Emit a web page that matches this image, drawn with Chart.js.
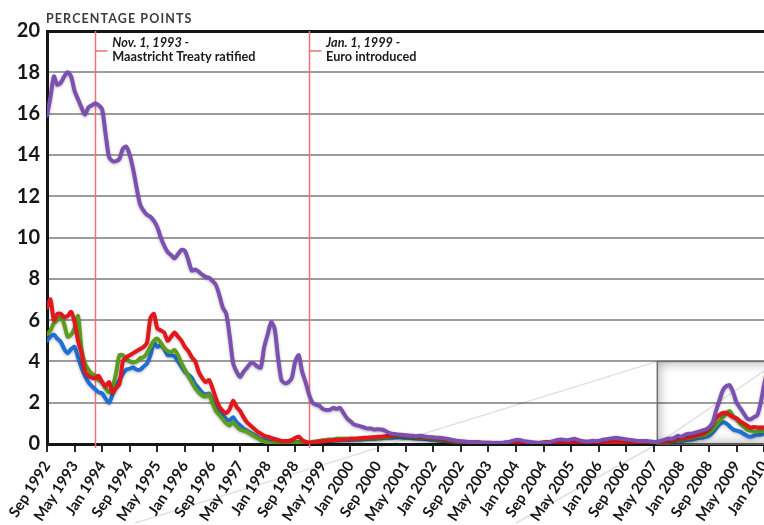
<!DOCTYPE html>
<html lang="en">
<head>
  <meta charset="UTF-8">
  <title>Spreads over Germany</title>
  <script src="https://cdn.jsdelivr.net/npm/chart.js"></script>
  <style>
    html, body { margin: 0; padding: 0; background: #fff; overflow: hidden; }
    #wrap { position: relative; width: 800px; height: 525px; }
  </style>
</head>
<body>
  <div id="wrap"><canvas id="spreadChart"></canvas></div>

  <script>
    // monthly series, first point = Sep 1992
    const tickLabels = ['Sep 1992', 'May 1993', 'Jan 1994', 'Sep 1994', 'May 1995', 'Jan 1996', 'Sep 1996',
      'May 1997', 'Jan 1998', 'Sep 1998', 'May 1999', 'Jan 2000', 'Sep 2000', 'May 2001', 'Jan 2002',
      'Sep 2002', 'May 2003', 'Jan 2004', 'Sep 2004', 'May 2005', 'Jan 2006', 'Sep 2006', 'May 2007',
      'Jan 2008', 'Sep 2008', 'May 2009', 'Jan 2010'];

    const purple = [
      15.9, 16.8, 17.8, 17.4, 17.5, 17.8, 18.0, 17.8, 17.1, 16.7,
      16.3, 15.95, 16.3, 16.4, 16.5, 16.4, 16.2, 15.0, 13.9, 13.7,
      13.7, 13.8, 14.3, 14.4, 14.0, 13.3, 12.4, 11.6, 11.3, 11.1,
      11.0, 10.8, 10.5, 10.0, 9.6, 9.3, 9.15, 9.0, 9.2, 9.4,
      9.35, 8.9, 8.4, 8.45, 8.35, 8.2, 8.1, 8.05, 7.9, 7.7,
      7.2, 6.6, 6.3, 5.2, 3.9, 3.5, 3.25, 3.5, 3.7, 3.9,
      3.9, 3.75, 3.7, 4.7, 5.3, 5.9, 5.6, 4.2, 3.1, 2.95,
      3.0, 3.2, 4.0, 4.3, 3.5, 3.0, 2.4, 2.0, 1.9, 1.85,
      1.7, 1.65, 1.65, 1.75, 1.7, 1.75, 1.5, 1.25, 1.1, 0.95,
      0.9, 0.85, 0.8, 0.75, 0.75, 0.7, 0.72, 0.7, 0.65, 0.55,
      0.5, 0.48, 0.45, 0.45, 0.42, 0.4, 0.4, 0.38, 0.4, 0.38,
      0.35, 0.33, 0.32, 0.3, 0.3, 0.28, 0.25, 0.22, 0.18, 0.15,
      0.12, 0.12, 0.1, 0.08, 0.08, 0.06, 0.06, 0.05, 0.05, 0.05,
      0.05, 0.05, 0.05, 0.08, 0.1, 0.15, 0.2, 0.2, 0.15, 0.12,
      0.1, 0.08, 0.06, 0.05, 0.05, 0.05, 0.1, 0.15, 0.2, 0.22,
      0.2, 0.18, 0.22, 0.25, 0.2, 0.15, 0.12, 0.12, 0.15, 0.15,
      0.15, 0.2, 0.22, 0.25, 0.28, 0.3, 0.28, 0.25, 0.22, 0.2,
      0.18, 0.15, 0.15, 0.15, 0.15, 0.12, 0.1, 0.1, 0.15, 0.2,
      0.25, 0.25, 0.3, 0.4, 0.35, 0.45, 0.5, 0.5, 0.55, 0.6,
      0.65, 0.7, 0.8, 1.0, 1.6, 2.1, 2.6, 2.8, 2.85, 2.5,
      2.0, 1.75, 1.5, 1.25, 1.2, 1.3, 1.4, 2.0, 2.9, 3.6
    ];

    const red = [
      6.6, 7.0, 6.0, 6.3, 6.3, 6.15, 6.2, 6.4, 5.9, 5.0,
      4.4, 3.5, 3.3, 3.2, 3.2, 3.3, 3.0, 2.8, 3.0, 2.5,
      2.7, 2.9, 4.0, 4.2, 4.3, 4.4, 4.5, 4.6, 4.7, 4.9,
      6.1, 6.3, 5.6, 5.5, 5.4, 5.0, 5.2, 5.4, 5.2, 5.0,
      4.7, 4.5, 4.2, 4.0, 3.5, 3.2, 3.0, 3.1, 2.7, 2.2,
      1.8, 1.6, 1.5, 1.7, 2.1, 1.8, 1.6, 1.3, 1.05, 0.9,
      0.75, 0.6, 0.5, 0.4, 0.35, 0.3, 0.25, 0.2, 0.15, 0.15,
      0.15, 0.2, 0.3, 0.35, 0.2, 0.1, 0.05, 0.08, 0.1, 0.12,
      0.15, 0.15, 0.17, 0.18, 0.2, 0.2, 0.22, 0.22, 0.25, 0.25,
      0.27, 0.28, 0.3, 0.3, 0.32, 0.33, 0.35, 0.35, 0.38, 0.4,
      0.4, 0.42, 0.45, 0.42, 0.4, 0.4, 0.38, 0.35, 0.35, 0.35,
      0.32, 0.3, 0.3, 0.28, 0.25, 0.22, 0.2, 0.18, 0.15, 0.15,
      0.12, 0.1, 0.1, 0.08, 0.08, 0.08, 0.06, 0.06, 0.06, 0.05,
      0.05, 0.05, 0.05, 0.05, 0.06, 0.08, 0.08, 0.06, 0.05, 0.05,
      0.05, 0.05, 0.05, 0.06, 0.08, 0.1, 0.1, 0.08, 0.08, 0.06,
      0.06, 0.06, 0.08, 0.08, 0.06, 0.05, 0.05, 0.05, 0.06, 0.08,
      0.08, 0.1, 0.1, 0.1, 0.1, 0.08, 0.08, 0.06, 0.06, 0.06,
      0.05, 0.05, 0.05, 0.05, 0.05, 0.05, 0.06, 0.08, 0.1, 0.12,
      0.15, 0.18, 0.2, 0.28, 0.25, 0.3, 0.35, 0.35, 0.4, 0.45,
      0.5, 0.6, 0.75, 1.0, 1.25, 1.4, 1.5, 1.5, 1.4, 1.3,
      1.25, 1.1, 1.0, 0.9, 0.8, 0.82, 0.8, 0.8, 0.8, 0.8
    ];

    const green = [
      5.3, 5.5, 5.85, 6.0, 6.15, 5.8, 5.2, 5.3, 5.6, 6.2,
      4.6, 3.9, 3.6, 3.4, 3.3, 3.1, 3.0, 2.7, 2.5, 2.75,
      3.4, 4.3, 4.3, 4.1, 4.0, 3.95, 4.0, 4.15, 4.2, 4.4,
      4.7, 5.0, 5.1, 4.9, 4.65, 4.5, 4.45, 4.55, 4.3, 3.9,
      3.6, 3.3, 3.0, 2.7, 2.5, 2.35, 2.3, 2.4, 2.0, 1.6,
      1.4, 1.2, 1.0, 0.9, 1.05, 0.85, 0.7, 0.65, 0.6, 0.5,
      0.4, 0.3, 0.2, 0.12, 0.08, 0.05, 0.05, 0.05, 0.05, 0.05,
      0.08, 0.08, 0.1, 0.1, 0.08, 0.06, 0.08, 0.1, 0.12, 0.15,
      0.18, 0.2, 0.22, 0.22, 0.25, 0.25, 0.25, 0.25, 0.25, 0.25,
      0.25, 0.25, 0.27, 0.28, 0.3, 0.3, 0.3, 0.32, 0.33, 0.35,
      0.35, 0.38, 0.4, 0.38, 0.36, 0.35, 0.33, 0.32, 0.3, 0.3,
      0.28, 0.26, 0.25, 0.22, 0.2, 0.18, 0.16, 0.14, 0.12, 0.1,
      0.08, 0.08, 0.07, 0.07, 0.06, 0.06, 0.05, 0.05, 0.05, 0.05,
      0.05, 0.05, 0.05, 0.06, 0.06, 0.07, 0.07, 0.06, 0.05, 0.05,
      0.05, 0.05, 0.05, 0.05, 0.06, 0.07, 0.07, 0.06, 0.06, 0.05,
      0.05, 0.05, 0.06, 0.06, 0.05, 0.05, 0.05, 0.05, 0.05, 0.06,
      0.07, 0.08, 0.08, 0.08, 0.08, 0.07, 0.07, 0.06, 0.06, 0.05,
      0.05, 0.05, 0.05, 0.05, 0.05, 0.05, 0.05, 0.06, 0.08, 0.1,
      0.12, 0.15, 0.18, 0.22, 0.2, 0.25, 0.28, 0.3, 0.33, 0.38,
      0.4, 0.45, 0.55, 0.7, 0.9, 1.1, 1.3, 1.5, 1.6, 1.35,
      1.2, 1.0, 0.85, 0.7, 0.65, 0.6, 0.6, 0.65, 0.6, 0.6
    ];

    const blue = [
      5.0, 5.2, 5.3, 5.1, 4.95, 4.6, 4.4, 4.6, 4.7, 4.2,
      3.7, 3.3, 3.0, 2.8, 2.65, 2.5, 2.45, 2.2, 2.0, 2.4,
      2.8, 3.1, 3.4, 3.6, 3.65, 3.7, 3.6, 3.6, 3.75, 3.9,
      4.3, 4.9, 4.7, 4.8, 4.6, 4.3, 4.3, 4.25, 4.0, 3.75,
      3.5, 3.35, 3.2, 2.9, 2.7, 2.5, 2.4, 2.45, 2.1, 1.8,
      1.6, 1.4, 1.2, 1.15, 1.3, 1.05, 0.9, 0.75, 0.65, 0.55,
      0.45, 0.35, 0.25, 0.2, 0.15, 0.1, 0.08, 0.06, 0.05, 0.05,
      0.05, 0.06, 0.08, 0.08, 0.06, 0.05, 0.05, 0.06, 0.08, 0.1,
      0.12, 0.14, 0.15, 0.16, 0.18, 0.18, 0.2, 0.2, 0.2, 0.22,
      0.22, 0.22, 0.24, 0.25, 0.25, 0.26, 0.27, 0.28, 0.3, 0.3,
      0.3, 0.32, 0.33, 0.32, 0.3, 0.3, 0.28, 0.27, 0.26, 0.25,
      0.24, 0.22, 0.2, 0.18, 0.16, 0.15, 0.13, 0.12, 0.1, 0.08,
      0.07, 0.06, 0.06, 0.05, 0.05, 0.05, 0.04, 0.04, 0.04, 0.04,
      0.04, 0.04, 0.04, 0.04, 0.05, 0.05, 0.05, 0.05, 0.04, 0.04,
      0.04, 0.04, 0.04, 0.04, 0.04, 0.05, 0.05, 0.05, 0.04, 0.04,
      0.04, 0.04, 0.04, 0.04, 0.04, 0.04, 0.04, 0.04, 0.04, 0.05,
      0.05, 0.06, 0.06, 0.06, 0.06, 0.05, 0.05, 0.05, 0.04, 0.04,
      0.04, 0.04, 0.04, 0.04, 0.04, 0.04, 0.04, 0.05, 0.06, 0.08,
      0.1, 0.12, 0.14, 0.17, 0.16, 0.18, 0.2, 0.22, 0.25, 0.3,
      0.3, 0.35, 0.4, 0.55, 0.75, 0.95, 1.05, 1.0, 0.85, 0.7,
      0.65, 0.6, 0.5, 0.4, 0.35, 0.4, 0.45, 0.45, 0.5, 0.5
    ];

    // events (month index from Sep 1992)
    const eventMonths = [14, 76];
    const eventDates = ['Nov. 1, 1993 -', 'Jan. 1, 1999 -'];
    const eventTexts = ['Maastricht Treaty ratified', 'Euro introduced'];

    // zoomed-in window drawn over the recent period
    const lensFrom = 177, lensTop = 4;

    const xMax = 212;
    const toPoints = arr => arr.map((v, i) => ({ x: i, y: v }));

    const decorPlugin = {
      id: 'decor',
      beforeDatasetsDraw(chart) {
        const { ctx, chartArea: a, scales: { x, y } } = chart;
        const lx = x.getPixelForValue(lensFrom);
        const ly = y.getPixelForValue(lensTop);
        const lb = y.getPixelForValue(0);
        ctx.save();

        // faint projection lines
        ctx.strokeStyle = 'rgba(0,0,0,0.12)';
        ctx.lineWidth = 1.5;
        ctx.beginPath();
        ctx.moveTo(x.getPixelForValue(25.5), chart.height - 2);
        ctx.lineTo(lx, ly);
        ctx.moveTo(x.getPixelForValue(136), chart.height - 2);
        ctx.lineTo(lx, lb);
        ctx.lineTo(x.getPixelForValue(xMax), ly);
        ctx.stroke();

        // lens box with inner shadow
        const w = a.right - lx + 20;
        ctx.save();
        ctx.beginPath();
        ctx.rect(lx, ly, w, lb - ly);
        ctx.clip();
        ctx.shadowColor = 'rgba(0,0,0,0.5)';
        ctx.shadowBlur = 12;
        ctx.strokeStyle = '#888';
        ctx.lineWidth = 6;
        ctx.strokeRect(lx - 3, ly - 3, w + 6, lb - ly + 6);
        ctx.restore();
        ctx.strokeStyle = '#6f6f6f';
        ctx.lineWidth = 1.5;
        ctx.strokeRect(lx, ly, w, lb - ly);

        // event lines
        ctx.strokeStyle = '#f0707a';
        ctx.lineWidth = 1.5;
        eventMonths.forEach(m => {
          const px = Math.round(x.getPixelForValue(m)) + 0.5;
          ctx.beginPath();
          ctx.moveTo(px, a.top);
          ctx.lineTo(px, a.bottom + 4);
          ctx.moveTo(px, a.top + 20);
          ctx.lineTo(px + 12, a.top + 20);
          ctx.stroke();
        });
        ctx.restore();
      },
      beforeDatasetDraw(chart) {
        const ctx = chart.ctx;
        ctx.save();
        ctx.shadowColor = 'rgba(0,0,0,0.3)';
        ctx.shadowBlur = 3;
        ctx.shadowOffsetY = 1;
      },
      afterDatasetDraw(chart) {
        chart.ctx.restore();
      },
      afterDraw(chart) {
        const { ctx, chartArea: a, scales: { x } } = chart;
        ctx.save();
        ctx.fillStyle = '#3c3c3c';
        ctx.font = 'bold 12.5px Lato';
        ctx.letterSpacing = '1.1px';
        ctx.textBaseline = 'alphabetic';
        ctx.fillText('PERCENTAGE POINTS', a.left - 1, a.top - 8);
        ctx.letterSpacing = '0px';
        ctx.fillStyle = '#1a1a1a';
        eventMonths.forEach((m, i) => {
          const px = x.getPixelForValue(m) + 17;
          ctx.font = 'italic bold 12.7px Lato';
          ctx.fillText(eventDates[i], px, a.top + 16);
          ctx.font = 'bold 12.7px Lato';
          ctx.fillText(eventTexts[i], px, a.top + 30);
        });
        ctx.restore();
      }
    };

    const ctx = document.getElementById('spreadChart').getContext('2d');
    const chart = new Chart(ctx, {
      type: 'line',
      data: {
        datasets: [
          { data: toPoints(purple), borderColor: '#7b50b0' },
          { data: toPoints(red), borderColor: '#e3161c' },
          { data: toPoints(green), borderColor: '#5c9c1f' },
          { data: toPoints(blue), borderColor: '#1f6fd4' }
        ].map(d => Object.assign(d, {
          borderWidth: 4,
          pointRadius: 0,
          tension: 0.25,
          borderJoinStyle: 'round',
          borderCapStyle: 'round',
          fill: false
        }))
      },
      options: {
        responsive: true,
        maintainAspectRatio: false,
        animation: false,
        layout: { padding: { left: 0, top: 31, right: 22, bottom: 0 } },
        plugins: {
          legend: { display: false },
          tooltip: { enabled: false }
        },
        scales: {
          x: {
            type: 'linear',
            min: 0,
            max: xMax,
            afterBuildTicks: scale => {
              scale.ticks = tickLabels.map((_, i) => ({ value: i * 8 }));
            },
            afterFit: scale => { scale.height = 81; },
            ticks: {
              autoSkip: false,
              minRotation: 57,
              maxRotation: 57,
              padding: 6,
              color: '#161616',
              font: { family: 'Lato', weight: 'bold', size: 15 },
              callback: v => tickLabels[v / 8]
            },
            grid: {
              drawOnChartArea: false,
              drawTicks: true,
              tickLength: 8,
              color: '#2a2a2a',
              lineWidth: 2
            },
            border: { display: true, color: '#151515', width: 3 }
          },
          y: {
            min: 0,
            max: 20,
            afterFit: scale => { scale.width = 47; },
            ticks: {
              stepSize: 2,
              padding: 7,
              color: '#161616',
              font: { family: 'Lato', weight: 'bold', size: 20 }
            },
            grid: {
              drawTicks: false,
              color: c => c.tick.value === 20 ? '#151515' : '#9c9c9c',
              lineWidth: c => c.tick.value === 20 ? 3 : 2
            },
            border: { display: true, color: '#151515', width: 3 }
          }
        }
      },
      plugins: [decorPlugin]
    });
  </script>
</body>
</html>
